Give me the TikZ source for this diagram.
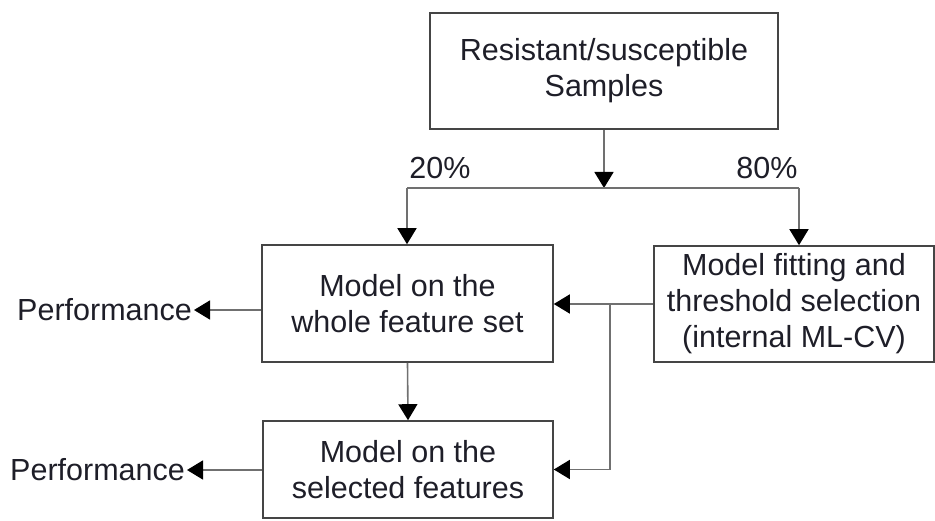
\documentclass[tikz,border=0pt]{standalone}
\usepackage{fontspec}
\setmainfont{Liberation Sans}
\usetikzlibrary{arrows.meta}

\definecolor{linegray}{HTML}{707070}
\definecolor{boxgray}{HTML}{454545}
\definecolor{textdark}{HTML}{1E1E28}

\tikzstyle{labeltext} = [font=\fontsize{30.5}{36}\selectfont,text=textdark,inner sep=2pt]
\tikzstyle{box} = [draw=boxgray,line width=1.6pt,align=center,inner sep=0pt,font=\fontsize{30.5}{36}\selectfont,text=textdark]
\tikzstyle{edge} = [draw=linegray,line width=1.6pt,-]
\tikzstyle{arrowdecorate} = [draw=linegray,line width=1.6pt,-{Triangle[length=16pt,width=19pt,color=black]}]

\begin{document}
\begin{tikzpicture}[x=1pt,y=-1pt]
      \useasboundingbox (0,0) rectangle (935,521);
      %boxes
      \foreach \nodename/\x/\y/\w/\h/\txt in {
        samples/604/71/348/116/{Resistant/susceptible\\Samples},
        whole/407.5/303.5/291/117/{Model on the\\whole feature set},
        fitting/794/304/280/116/{Model fitting and\\threshold selection\\(internal ML-CV)},
        selected/408/469.5/290/97/{Model on the\\selected features}}
      {
        \node[box, minimum width=\w pt, minimum height=\h pt] (\nodename) at (\x,\y) {\txt};
      };

      %labels
      \node[labeltext] (pct20) at (440,168) {20\%};
      \node[labeltext] (pct80) at (767,168) {80\%};
      \node[labeltext, anchor=east] (perf1) at (194,310) {Performance};
      \node[labeltext, anchor=east] (perf2) at (187,470) {Performance};

      \coordinate (split) at (604,188);
      \coordinate (splitl) at (407,188);
      \coordinate (splitr) at (799,188);
      \coordinate (branch) at (610,304);

      %edges
      \draw[arrowdecorate] (samples.south) -- (split);
      \draw[edge] (splitl) -- (splitr);
      \draw[arrowdecorate] (splitl) -- (splitl |- whole.north);
      \draw[arrowdecorate] (splitr) -- (splitr |- fitting.north);
      \draw[arrowdecorate] (fitting.west) -- (whole.east |- fitting.west);
      \draw[arrowdecorate] (branch) |- (selected.east);
      \draw[arrowdecorate] (whole.south) -- (selected.north);
      \draw[arrowdecorate] (whole.west |- perf1.east) -- (perf1.east);
      \draw[arrowdecorate] (selected.west |- perf2.east) -- (perf2.east);
    \end{tikzpicture}
\end{document}
